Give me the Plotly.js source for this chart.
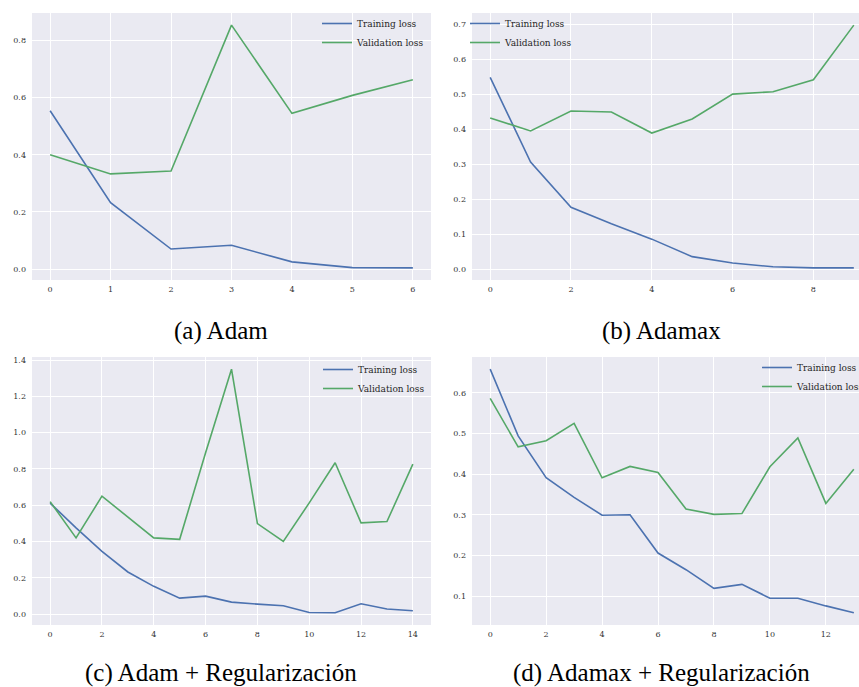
<!DOCTYPE html>
<html>
<head>
<meta charset="utf-8">
<script src="https://cdn.plot.ly/plotly-3.0.1.min.js"></script>
<style>
html,body{margin:0;padding:0;overflow:hidden;background:#fff;width:859px;height:687px}
#chart{width:880px;height:687px}
</style>
</head>
<body>
<div id="chart"></div>
<script>
// ---------- data ----------
const seriesNames = ["Training loss", "Validation loss"];
const captions = ["(a) Adam", "(b) Adamax", "(c) Adam + Regularización", "(d) Adamax + Regularización"];

const epochsA = [0, 1, 2, 3, 4, 5, 6];
const trainA  = [0.554, 0.232, 0.070, 0.083, 0.025, 0.005, 0.004];
const valA    = [0.400, 0.333, 0.343, 0.854, 0.545, 0.608, 0.663];

const epochsB = [0, 1, 2, 3, 4, 5, 6, 7, 8, 9];
const trainB  = [0.549, 0.307, 0.178, 0.131, 0.087, 0.037, 0.019, 0.008, 0.005, 0.005];
const valB    = [0.433, 0.396, 0.453, 0.450, 0.390, 0.430, 0.501, 0.508, 0.542, 0.698];

const epochsC = [0, 1, 2, 3, 4, 5, 6, 7, 8, 9, 10, 11, 12, 13, 14];
const trainC  = [0.612, 0.475, 0.346, 0.232, 0.153, 0.088, 0.099, 0.066, 0.055, 0.046, 0.009, 0.007, 0.057, 0.028, 0.018];
const valC    = [0.620, 0.420, 0.650, 0.534, 0.420, 0.412, 0.889, 1.350, 0.499, 0.401, 0.613, 0.834, 0.503, 0.510, 0.827];

const epochsD = [0, 1, 2, 3, 4, 5, 6, 7, 8, 9, 10, 11, 12, 13];
const trainD  = [0.658, 0.494, 0.391, 0.343, 0.299, 0.300, 0.206, 0.165, 0.119, 0.129, 0.095, 0.095, 0.076, 0.059];
const valD    = [0.586, 0.467, 0.482, 0.525, 0.391, 0.419, 0.404, 0.314, 0.301, 0.303, 0.418, 0.489, 0.328, 0.412];

// ---------- layout config ----------
const W = 880, H = 687;
const colors = ["#4C72B0", "#55A868"];
const panels = [
  {x: epochsA, tr: trainA, va: valA, box: [32, 431, 13, 280],  xd: 1, yd: 0.2, leg: [317, 9],   cap: [221, 331]},
  {x: epochsB, tr: trainB, va: valB, box: [472, 872, 13, 280], xd: 2, yd: 0.1, leg: [465, 9],   cap: [661, 331]},
  {x: epochsC, tr: trainC, va: valC, box: [32, 431, 357, 625], xd: 2, yd: 0.2, leg: [318, 355], cap: [221, 673]},
  {x: epochsD, tr: trainD, va: valD, box: [472, 872, 357, 625], xd: 2, yd: 0.1, leg: [757, 353], cap: [661, 673]}
];

function padRange(arrs) {
  let lo = Infinity, hi = -Infinity;
  arrs.forEach(a => a.forEach(v => { lo = Math.min(lo, v); hi = Math.max(hi, v); }));
  const m = (hi - lo) * 0.05;
  return [lo - m, hi + m];
}

const tickFont = {family: "DejaVu Serif", size: 8, color: "#333333"};
const data = [];
const layout = {
  width: W, height: H,
  margin: {l: 0, r: 0, t: 0, b: 0, pad: 0, autoexpand: false},
  paper_bgcolor: "#ffffff",
  plot_bgcolor: "#EAEAF2",
  showlegend: true,
  annotations: []
};

panels.forEach((p, i) => {
  const n = i === 0 ? "" : String(i + 1);
  const xa = "x" + n, ya = "y" + n;
  const legName = "legend" + n;
  [p.tr, p.va].forEach((ys, k) => {
    data.push({
      type: "scatter", mode: "lines",
      x: p.x, y: ys, name: seriesNames[k],
      xaxis: xa, yaxis: ya, legend: legName,
      line: {color: colors[k], width: 1.6},
      hoverinfo: "skip"
    });
  });
  const common = {
    showgrid: true, gridcolor: "#ffffff", gridwidth: 1,
    zeroline: false, showline: false, ticks: "",
    tickfont: tickFont, fixedrange: true
  };
  layout["xaxis" + n] = Object.assign({}, common, {
    domain: [p.box[0] / W, p.box[1] / W],
    anchor: ya,
    range: padRange([p.x]),
    tick0: 0, dtick: p.xd,
    ticklabelstandoff: 3
  });
  layout["yaxis" + n] = Object.assign({}, common, {
    domain: [1 - p.box[3] / H, 1 - p.box[2] / H],
    anchor: xa,
    range: padRange([p.tr, p.va]),
    tick0: 0, dtick: p.yd, tickformat: ".1f",
    ticklabelstandoff: 5
  });
  layout[legName] = {
    x: p.leg[0] / W, y: 1 - p.leg[1] / H,
    xanchor: "left", yanchor: "top",
    bgcolor: "rgba(0,0,0,0)", borderwidth: 0,
    font: {family: "DejaVu Serif", size: 9, color: "#262626"},
    itemwidth: 30
  };
  layout.annotations.push({
    text: captions[i], showarrow: false,
    xref: "paper", yref: "paper",
    x: p.cap[0] / W, y: 1 - p.cap[1] / H,
    xanchor: "center", yanchor: "middle",
    font: {family: "Liberation Serif", size: 25, color: "#000000"}
  });
});

Plotly.newPlot("chart", data, layout, {displayModeBar: false, staticPlot: true});
</script>
</body>
</html>
